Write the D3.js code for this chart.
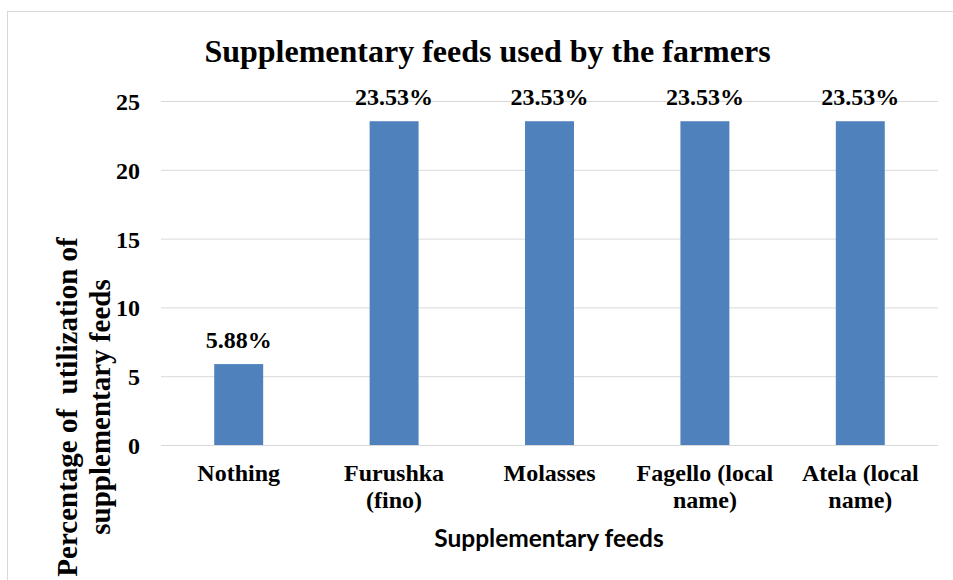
<!DOCTYPE html>
<html>
<head>
<meta charset="utf-8">
<script src="https://cdn.jsdelivr.net/npm/d3@7/dist/d3.min.js"></script>
<style>
  html, body { margin: 0; padding: 0; background: #fff; }
  svg { display: block; }
</style>
</head>
<body>
<svg id="chart" width="953" height="580"></svg>
<script>
// Feed categories (each label split into its display lines)
const categories = ["Nothing", "Furushka (fino)", "Molasses", "Fagello (local name)", "Atela (local name)"];
const categoryLines = [["Nothing"], ["Furushka", "(fino)"], ["Molasses"], ["Fagello (local", "name)"], ["Atela (local", "name)"]];
// Percentage of farmers using each feed
const values = [5.88, 23.53, 23.53, 23.53, 23.53];
const yTicks = [0, 5, 10, 15, 20, 25];

const SERIF = "'Liberation Serif', 'Times New Roman', serif";
const serif = (sel, size) => sel
  .style("font-family", SERIF)
  .style("font-weight", "bold")
  .style("font-size", size + "px")
  .style("fill", "#000");

const svg = d3.select("#chart");
const W = 953, H = 580;
const plot = { left: 161, right: 938, top: 101, bottom: 445 };

// chart area frame
svg.append("rect")
  .attr("x", 7.5).attr("y", 11.5)
  .attr("width", W).attr("height", H)
  .attr("fill", "#fff").attr("stroke", "#d9d9d9").attr("stroke-width", 1);

const x = d3.scaleBand()
  .domain(categories)
  .range([plot.left, plot.right])
  .paddingInner(0.685)
  .paddingOuter(0.3425);

const y = d3.scaleLinear()
  .domain([0, 25])
  .range([plot.bottom, plot.top]);

// horizontal gridlines with value ticks
const yAxis = d3.axisLeft(y)
  .tickValues(yTicks)
  .tickSize(-(plot.right - plot.left))
  .tickPadding(21)
  .tickFormat(d3.format("d"));

const gy = svg.append("g")
  .attr("transform", `translate(${plot.left},0)`)
  .call(yAxis);
gy.select(".domain").remove();
gy.selectAll(".tick line").attr("stroke", "#d9d9d9").attr("stroke-width", 1);
serif(gy.selectAll(".tick text"), 24).attr("dy", "0.35em");

// bars
svg.append("g").selectAll("rect")
  .data(values)
  .join("rect")
  .attr("x", (d, i) => x(categories[i]))
  .attr("y", d => y(d))
  .attr("width", x.bandwidth())
  .attr("height", d => y(0) - y(d))
  .attr("fill", "#4f81bd");

// value labels
serif(svg.append("g").selectAll("text")
  .data(values)
  .join("text"), 24)
  .attr("text-anchor", "middle")
  .attr("x", (d, i) => x(categories[i]) + x.bandwidth() / 2)
  .attr("y", d => y(d) - 16.5)
  .text(d => d.toFixed(2) + "%");

// category labels
const xl = serif(svg.append("g").selectAll("text")
  .data(categories)
  .join("text"), 24)
  .attr("text-anchor", "middle")
  .attr("x", d => x(d) + x.bandwidth() / 2)
  .attr("y", 481);
xl.each(function (d, i) {
  d3.select(this).selectAll("tspan")
    .data(categoryLines[i])
    .join("tspan")
    .attr("x", x(d) + x.bandwidth() / 2)
    .attr("dy", (t, j) => j === 0 ? 0 : 27)
    .text(t => t);
});

// title
serif(svg.append("text"), 32)
  .attr("text-anchor", "middle")
  .attr("x", 487.5).attr("y", 62)
  .text("Supplementary feeds used by the farmers");

// x axis title
svg.append("text")
  .style("font-family", "Lato, 'Open Sans', sans-serif")
  .style("font-weight", "bold")
  .style("font-size", "24.5px")
  .attr("text-anchor", "middle")
  .attr("x", 549).attr("y", 547)
  .text("Supplementary feeds");

// y axis title (two lines)
const yt = serif(svg.append("text"), 29)
  .attr("text-anchor", "middle")
  .attr("transform", "translate(77,407) rotate(-90)");
yt.append("tspan").attr("x", 0).attr("dy", 0).text("Percentage of \u00a0utilization of");
yt.append("tspan").attr("x", 0).attr("dy", 33).text("supplementary feeds");
</script>
</body>
</html>
